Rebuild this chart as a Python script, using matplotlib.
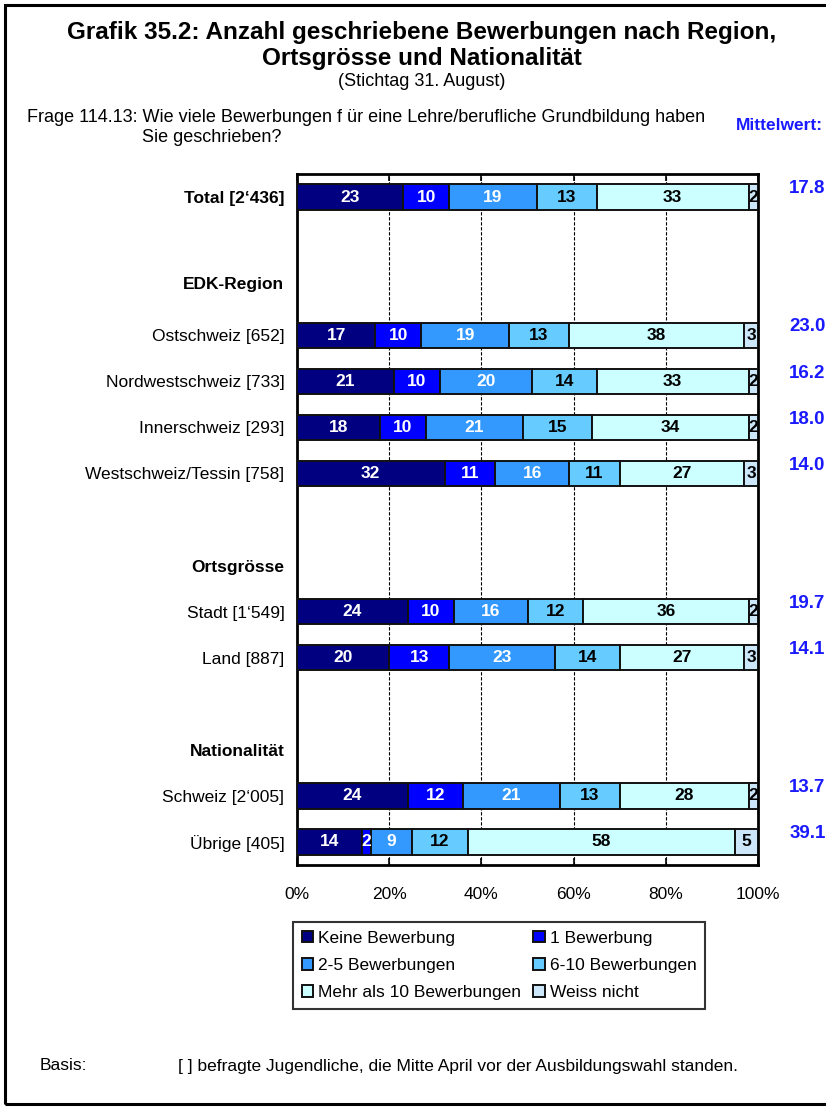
"""Stacked horizontal bars: applications written, by region, town size and nationality."""
import matplotlib
matplotlib.use("Agg")
import matplotlib.pyplot as plt
import matplotlib.transforms as mtransforms
from matplotlib.patches import Rectangle

plt.rcParams["font.family"] = ["Liberation Sans", "DejaVu Sans"]

W, H = 826, 1111

# rows from top to bottom; empty strings are spacer rows
rows = ["Total [2‘436]", "", "EDK-Region",
        "Ostschweiz [652]", "Nordwestschweiz [733]", "Innerschweiz [293]",
        "Westschweiz/Tessin [758]", "", "Ortsgrösse",
        "Stadt [1‘549]", "Land [887]", "", "Nationalität",
        "Schweiz [2‘005]", "Übrige [405]"]
bold_rows = ["Total [2‘436]", "EDK-Region", "Ortsgrösse", "Nationalität"]

bar_rows = ["Total [2‘436]", "Ostschweiz [652]", "Nordwestschweiz [733]",
            "Innerschweiz [293]", "Westschweiz/Tessin [758]", "Stadt [1‘549]",
            "Land [887]", "Schweiz [2‘005]", "Übrige [405]"]

series = ["Keine Bewerbung", "1 Bewerbung", "2-5 Bewerbungen",
          "6-10 Bewerbungen", "Mehr als 10 Bewerbungen", "Weiss nicht"]
keine = [23, 17, 21, 18, 32, 24, 20, 24, 14]
eine = [10, 10, 10, 10, 11, 10, 13, 12, 2]
zwei_fuenf = [19, 19, 20, 21, 16, 16, 23, 21, 9]
sechs_zehn = [13, 13, 14, 15, 11, 12, 14, 13, 12]
mehr_zehn = [33, 38, 33, 34, 27, 36, 27, 28, 58]
weiss_nicht = [2, 3, 2, 2, 3, 2, 3, 2, 5]
mittelwert = [17.8, 23.0, 16.2, 18.0, 14.0, 19.7, 14.1, 13.7, 39.1]

colors = ["#000080", "#0000FF", "#3399FF", "#66CCFF", "#CCFFFF", "#CCE6FA"]
text_colors = ["white", "white", "white", "black", "black", "black"]
x_ticks = [0, 20, 40, 60, 80, 100]
blue_text = "#1A1AFF"


def fx(px):
    return px / W


def fy(py):
    return 1 - py / H


fig = plt.figure(figsize=(W / 100, H / 100), dpi=100)

# outer frame (open on the right side)
fig.patches.append(Rectangle((fx(5), fy(1104)), fx(840) - fx(5), fy(5) - fy(1104),
                             transform=fig.transFigure, fill=False,
                             edgecolor="black", lw=2.2))

fig.text(fx(422), fy(33), "Grafik 35.2: Anzahl geschriebene Bewerbungen nach Region,",
         ha="center", va="center", fontsize=17.5, fontweight="bold")
fig.text(fx(422), fy(59), "Ortsgrösse und Nationalität",
         ha="center", va="center", fontsize=17.5, fontweight="bold")
fig.text(fx(422), fy(81), "(Stichtag 31. August)", ha="center", va="center", fontsize=13)
fig.text(fx(27), fy(118),
         "Frage 114.13: Wie viele Bewerbungen f ür eine Lehre/berufliche Grundbildung haben",
         ha="left", va="center", fontsize=13)
fig.text(fx(142), fy(137), "Sie geschrieben?", ha="left", va="center", fontsize=13)
fig.text(fx(736), fy(126), "Mittelwert:", ha="left", va="center",
         fontsize=12.5, fontweight="bold", color=blue_text)

left, right, top, bottom = 297, 758, 174, 865
ax = fig.add_axes([fx(left), fy(bottom), fx(right) - fx(left), fy(top) - fy(bottom)])

ypos = [rows.index(r) for r in bar_rows]
data = [keine, eine, zwei_fuenf, sechs_zehn, mehr_zehn, weiss_nicht]
start = [0] * len(bar_rows)
for vals, col, tcol, name in zip(data, colors, text_colors, series):
    bars = ax.barh(ypos, vals, left=start, height=0.55, color=col,
                   edgecolor="#111111", linewidth=1.4, label=name, zorder=3)
    for b, v in zip(bars, vals):
        ax.text(b.get_x() + b.get_width() / 2, b.get_y() + b.get_height() / 2, str(v),
                ha="center", va="center", color=tcol, fontsize=12.5,
                fontweight="bold", zorder=4)
    start = [s + v for s, v in zip(start, vals)]

for y, m in zip(ypos, mittelwert):
    ax.text(1.107, y - 0.18, f"{m:.1f}", transform=ax.get_yaxis_transform(),
            ha="center", va="center", fontsize=13.5, fontweight="bold",
            color=blue_text, clip_on=False)

ax.set_xlim(0, 100)
ax.set_ylim(len(rows) - 0.5, -0.5)
ax.set_xticks(x_ticks)
ax.set_xticklabels([f"{t}%" for t in x_ticks], fontsize=12.5)
ax.tick_params(axis="x", direction="in", length=5, width=1.2, pad=16,
               top=True, bottom=True)
ax.set_yticks(range(len(rows)))
ax.set_yticklabels(rows, fontsize=12.5)
ax.tick_params(axis="y", length=0, pad=9)
nudge = mtransforms.ScaledTranslation(0, 6 / 100, fig.dpi_scale_trans)
for lab in ax.get_yticklabels():
    if lab.get_text() in bold_rows:
        lab.set_fontweight("bold")
    if lab.get_text() == "EDK-Region":
        lab.set_transform(lab.get_transform() + nudge)

ax.grid(axis="x", color="black", linestyle=(0, (3, 1.5)), linewidth=0.8, zorder=0)
for s in ax.spines.values():
    s.set_linewidth(2)

handles, labels = ax.get_legend_handles_labels()
order = [0, 2, 4, 1, 3, 5]
leg = fig.legend([handles[i] for i in order], [labels[i] for i in order],
                 loc="upper left", bbox_to_anchor=(fx(293), fy(922)), ncol=2,
                 fontsize=12.5, frameon=True, fancybox=False, edgecolor="black",
                 handlelength=0.65, handleheight=0.65, handletextpad=0.3,
                 columnspacing=0.7, labelspacing=0.7, borderpad=0.5,
                 borderaxespad=0)
leg.get_frame().set_linewidth(1.5)

fig.text(fx(40), fy(1066), "Basis:", ha="left", va="center", fontsize=12.5)
fig.text(fx(178), fy(1066),
         "[ ] befragte Jugendliche, die Mitte April vor der Ausbildungswahl standen.",
         ha="left", va="center", fontsize=12.5)

fig.savefig("out.png", dpi=100)
